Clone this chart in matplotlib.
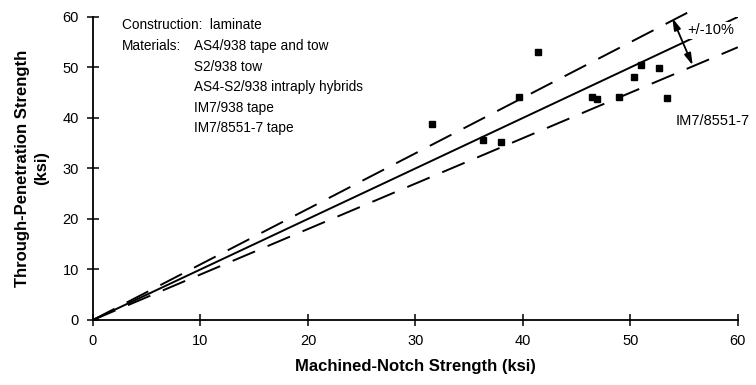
import numpy as np
import matplotlib
matplotlib.use('Agg')
import matplotlib.pyplot as plt

plt.rcParams['font.family'] = ['Liberation Sans', 'DejaVu Sans']

# measured data (ksi)
machined_notch = [31.5, 36.3, 38.0, 39.6, 41.4, 46.4, 46.9, 48.9, 50.3, 51.0, 52.7, 53.4]
through_pen = [38.8, 35.6, 35.3, 44.1, 53.1, 44.2, 43.8, 44.2, 48.1, 50.4, 49.8, 44.0]

ticks = [0, 10, 20, 30, 40, 50, 60]
materials = ['AS4/938 tape and tow', 'S2/938 tow', 'AS4-S2/938 intraply hybrids',
             'IM7/938 tape', 'IM7/8551-7 tape']

fig = plt.figure(figsize=(7.56, 3.85), dpi=100)
ax = fig.add_axes([0.123, 0.169, 0.853, 0.787])

# 1:1 line and +/-10% bounds
x = np.array([0, 60])
ax.plot(x, x, color='black', lw=1.4, zorder=2)
ax.plot([0, 55.8], [0, 1.1 * 55.8], color='black', lw=1.4, dashes=(12.5, 7), clip_on=False, zorder=2)
ax.plot(x, 0.9 * x, color='black', lw=1.4, dashes=(12.5, 7), zorder=2)

ax.plot(machined_notch, through_pen, 's', color='black', ms=4.8, zorder=3)

ax.annotate('', xy=(53.9, 59.8), xytext=(55.8, 50.4),
            arrowprops=dict(arrowstyle='<|-|>,head_length=0.7,head_width=0.2',
                            color='black', lw=1.3, shrinkA=0, shrinkB=0),
            annotation_clip=False, zorder=5)
ax.text(55.3, 57.4, '+/-10%', fontsize=10.5, va='center', ha='left', zorder=4,
        bbox=dict(facecolor='white', edgecolor='none', pad=1.0))
ax.text(54.2, 39.4, 'IM7/8551-7', fontsize=10.5, va='center', ha='left', clip_on=False)

# notes block
ax.text(2.7, 58.4, 'Construction:  laminate', fontsize=9.8, va='center')
ax.text(2.7, 54.2, 'Materials:', fontsize=9.8, va='center')
for i, m in enumerate(materials):
    ax.text(9.4, 54.2 - 4.05 * i, m, fontsize=9.8, va='center')

ax.set_xlim(0, 60)
ax.set_ylim(0, 60)
ax.set_xticks(ticks)
ax.set_yticks(ticks)
ax.tick_params(direction='inout', length=8, width=1.1, labelsize=10.5, pad=6)
for s in ['top', 'right']:
    ax.spines[s].set_visible(False)
for s in ['left', 'bottom']:
    ax.spines[s].set_linewidth(1.3)

ax.set_xlabel('Machined-Notch Strength (ksi)', fontsize=12, fontweight='bold', labelpad=8)
ax.set_ylabel('Through-Penetration Strength\n(ksi)', fontsize=12, fontweight='bold',
              labelpad=10, linespacing=1.3)

fig.savefig('out.png', dpi=100)
